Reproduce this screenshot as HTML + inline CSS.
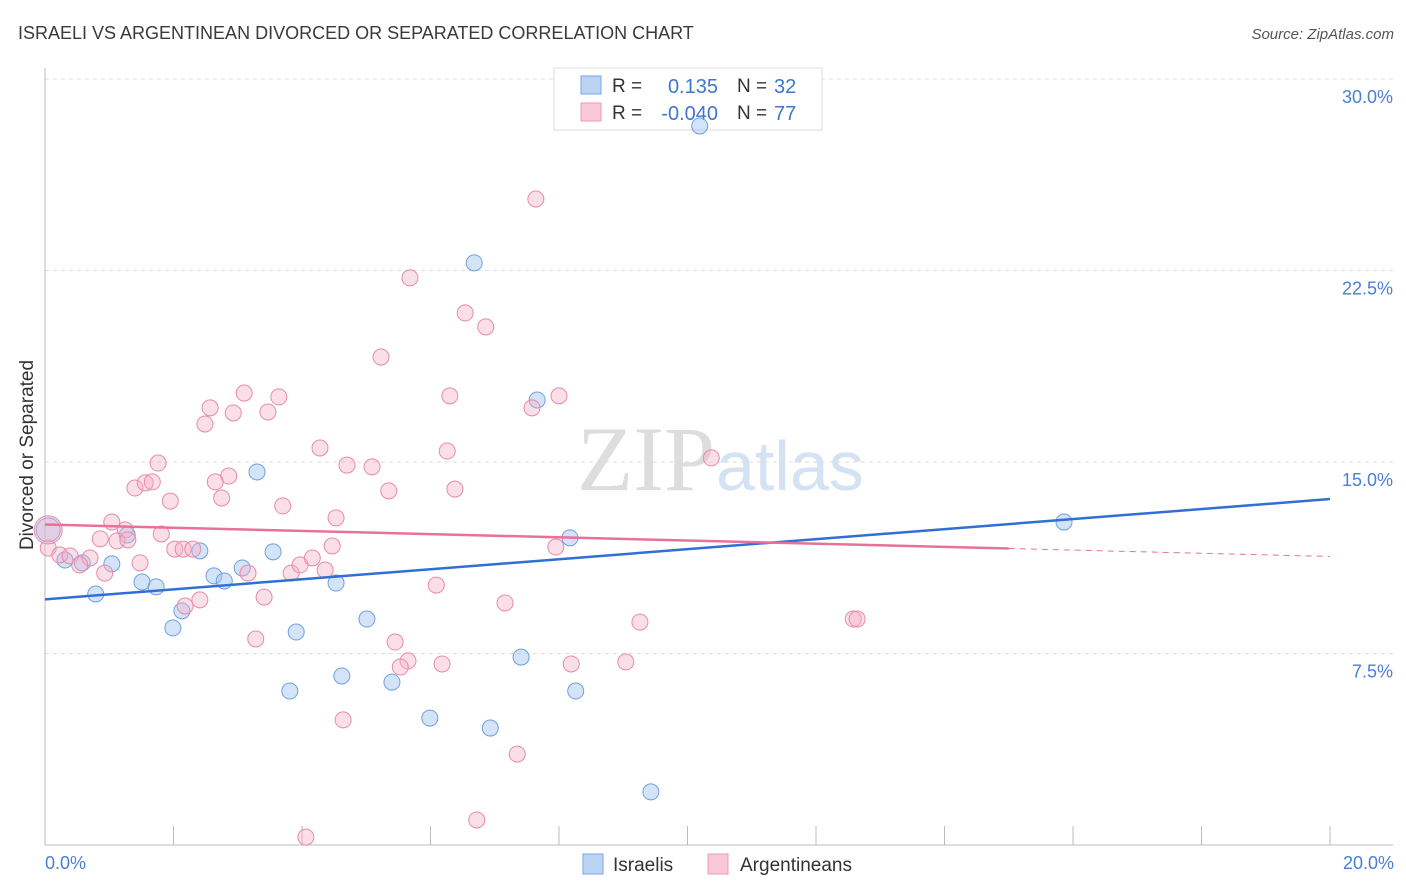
<!DOCTYPE html>
<html><head><meta charset="utf-8">
<style>
body{margin:0;background:#fff;font-family:"Liberation Sans",sans-serif;}
svg{display:block}
</style></head>
<body>
<svg id="chart" width="1406" height="892">
<text x="18" y="39" font-size="18" fill="#3a3a3a">ISRAELI VS ARGENTINEAN DIVORCED OR SEPARATED CORRELATION CHART</text>
<text x="1394" y="39" font-size="15" fill="#555" text-anchor="end" font-style="italic">Source: ZipAtlas.com</text>
<text x="715" y="490" font-size="92" fill="#ddd" text-anchor="end" font-family="Liberation Serif,serif">ZIP</text>
<text x="716" y="490" font-size="70" fill="#d4e2f4">atlas</text>
<g id="grid"></g>
<g id="axes"></g>
<g>
<rect x="554" y="68" width="268" height="62" fill="#fff" stroke="#ddd"/>
<rect x="581" y="76" width="20" height="18" fill="#bcd4f4" stroke="#7aa6e4"/>
<rect x="581" y="103" width="20" height="18" fill="#f9c8d6" stroke="#ee9ab6"/>
<text x="612" y="92" font-size="19" fill="#333">R =</text>
<text x="718" y="93" font-size="20" fill="#3f76d0" text-anchor="end">0.135</text>
<text x="737" y="92" font-size="19" fill="#333">N =</text>
<text x="774" y="93" font-size="20" fill="#3f76d0">32</text>
<text x="612" y="119" font-size="19" fill="#333">R =</text>
<text x="718" y="120" font-size="20" fill="#3f76d0" text-anchor="end">-0.040</text>
<text x="737" y="119" font-size="19" fill="#333">N =</text>
<text x="774" y="120" font-size="20" fill="#3f76d0">77</text>
</g>
<g id="marks"></g>
<text transform="translate(33,455) rotate(-90)" font-size="19" fill="#333" text-anchor="middle">Divorced or Separated</text>
<text x="45" y="869" font-size="18" fill="#4a7fd6">0.0%</text>
<text x="1394" y="869" font-size="18" fill="#4a7fd6" text-anchor="end">20.0%</text>
<g>
<rect x="583" y="854" width="20" height="20" fill="#bcd4f4" stroke="#7aa6e4"/>
<text x="613" y="871" font-size="19" fill="#333">Israelis</text>
<rect x="708" y="854" width="20" height="20" fill="#f9c8d6" stroke="#ee9ab6"/>
<text x="740" y="871" font-size="19" fill="#333">Argentineans</text>
</g>
</svg>
<script>
const yTicks=[7.5,15,22.5,30];
const yTickLabels=["7.5%","15.0%","22.5%","30.0%"];
const xTicks=[0,2,4,6,8,10,12,14,16,18,20];
const israeliX=[10.19,6.68,7.66,3.30,8.17,15.86,0.05,0.31,0.58,1.04,1.28,0.79,1.51,1.73,2.41,2.63,2.79,3.07,3.55,4.53,2.13,1.99,3.91,5.01,7.41,4.62,5.40,3.81,8.26,5.99,6.93,9.43];
const israeliY=[28.16,22.80,17.43,14.61,12.03,12.65,12.34,11.16,11.05,11.01,12.14,9.83,10.30,10.11,11.52,10.54,10.34,10.85,11.48,10.26,9.17,8.50,8.34,8.85,7.36,6.62,6.38,6.03,6.03,4.97,4.58,2.08];
const argX=[7.64,5.68,6.54,6.86,5.23,3.10,3.64,6.30,8.00,7.58,2.57,3.47,2.93,2.49,4.28,6.26,10.37,1.76,4.70,5.09,1.40,1.56,1.67,2.86,2.65,5.35,6.38,1.95,2.75,3.70,4.53,1.04,1.25,0.86,1.12,1.81,1.29,0.05,0.23,0.39,0.70,0.54,0.93,1.48,2.02,2.15,2.30,3.16,3.83,3.97,4.16,4.36,4.47,7.95,6.09,2.41,2.18,3.41,7.16,9.26,12.58,12.64,3.28,5.45,5.65,5.53,6.18,8.19,9.04,4.64,7.35,6.72,4.06,0.05];
const argY=[25.30,22.21,20.84,20.29,19.11,17.70,17.55,17.59,17.59,17.12,17.12,16.96,16.92,16.49,15.55,15.43,15.16,14.96,14.88,14.81,13.98,14.18,14.22,14.45,14.22,13.87,13.94,13.47,13.59,13.28,12.81,12.65,12.34,11.99,11.91,12.18,11.95,11.63,11.36,11.32,11.24,10.97,10.65,11.05,11.59,11.59,11.59,10.65,10.65,10.97,11.24,10.77,11.71,11.67,10.18,9.60,9.36,9.71,9.48,8.73,8.85,8.85,8.07,7.95,7.21,6.97,7.09,7.09,7.17,4.90,3.56,0.98,0.31,12.34];
const israeliTrend=[9.62,13.55];
const argTrend=[12.55,11.3];
const X=v=>45+v/20*1285, Y=v=>845-v/30*766;
const NS="http://www.w3.org/2000/svg";
function mk(parent,tag,attrs){const e=document.createElementNS(NS,tag);for(const k in attrs)e.setAttribute(k,attrs[k]);document.getElementById(parent).appendChild(e);return e;}
yTicks.forEach((t,i)=>{
 const l=mk('grid','line',{x1:45,x2:1393,y1:Y(t),y2:Y(t),stroke:'#ddd','stroke-dasharray':'4,4'});
 
 
 const tx=mk('grid','text',{x:1393,y:Y(t)+24,'font-size':18,fill:'#4a7fd6','text-anchor':'end'});
 tx.textContent=yTickLabels[i];
 
 
});
let a=mk('axes','line',{x1:45,x2:1393,y1:845,y2:845,stroke:'#bbb'});


a=mk('axes','line',{x1:45,x2:45,y1:68,y2:845,stroke:'#bbb'});


xTicks.forEach(t=>{const l=mk('axes','line',{x1:X(t),x2:X(t),y1:826,y2:845,stroke:'#bbb'});
 
 });
israeliX.forEach((x,i)=>{const c=mk('marks','circle',{cx:X(x),cy:Y(israeliY[i]),r:i==6?12:8,fill:'rgba(160,195,240,0.45)',stroke:'#6f9fe0','stroke-width':1});
 
 });
argX.forEach((x,i)=>{const c=mk('marks','circle',{cx:X(x),cy:Y(argY[i]),r:i==argX.length-1?14:8,fill:'rgba(244,175,198,0.4)',stroke:'#e88aab','stroke-width':1});
 
 });
let t=mk('marks','line',{x1:X(0),y1:Y(israeliTrend[0]),x2:X(20),y2:Y(israeliTrend[1]),stroke:'#2f6fd6','stroke-width':2.5});


const am=(argTrend[1]-argTrend[0])/20, xe=15;
t=mk('marks','line',{x1:X(0),y1:Y(argTrend[0]),x2:X(xe),y2:Y(argTrend[0]+am*xe),stroke:'#e8709a','stroke-width':2.5});


t=mk('marks','line',{x1:X(xe),y1:Y(argTrend[0]+am*xe),x2:X(20),y2:Y(argTrend[1]),stroke:'#e8709a','stroke-width':1,'stroke-dasharray':'6,5'});


</script>
</body></html>
